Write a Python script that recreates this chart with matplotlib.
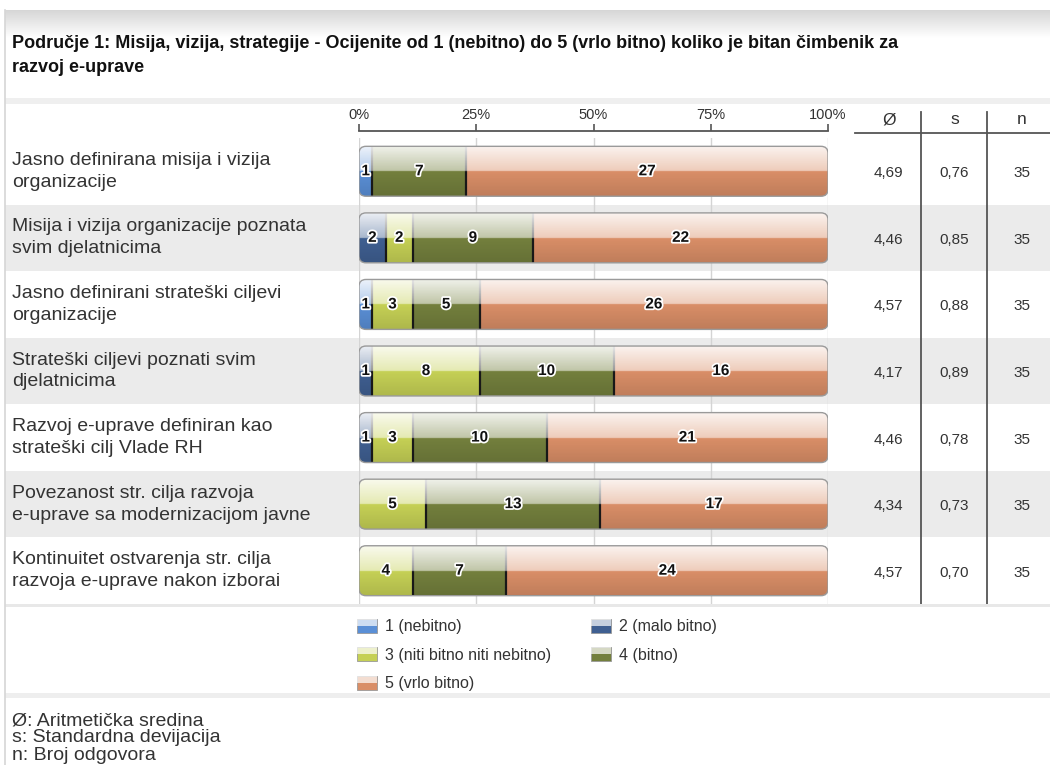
import numpy as np
import matplotlib.pyplot as plt
import matplotlib.patheffects as pe
from matplotlib.patches import FancyBboxPatch, Patch, Rectangle
from matplotlib.lines import Line2D
from matplotlib.legend_handler import HandlerPatch, HandlerTuple

plt.rcParams['font.family'] = ['Liberation Sans', 'DejaVu Sans']

# Podaci
naslov = ("Područje 1: Misija, vizija, strategije - Ocijenite od 1 (nebitno) do 5 (vrlo bitno) "
          "koliko je bitan čimbenik za\nrazvoj e-uprave")
pitanja = [
    "Jasno definirana misija i vizija\norganizacije",
    "Misija i vizija organizacije poznata\nsvim djelatnicima",
    "Jasno definirani strateški ciljevi\norganizacije",
    "Strateški ciljevi poznati svim\ndjelatnicima",
    "Razvoj e-uprave definiran kao\nstrateški cilj Vlade RH",
    "Povezanost str. cilja razvoja\ne-uprave sa modernizacijom javne",
    "Kontinuitet ostvarenja str. cilja\nrazvoja e-uprave nakon izborai",
]
kategorije = ["1 (nebitno)", "2 (malo bitno)", "3 (niti bitno niti nebitno)",
              "4 (bitno)", "5 (vrlo bitno)"]
ocjena_1 = [1, 0, 1, 0, 0, 0, 0]
ocjena_2 = [0, 2, 0, 1, 1, 0, 0]
ocjena_3 = [0, 2, 3, 8, 3, 5, 4]
ocjena_4 = [7, 9, 5, 10, 10, 13, 7]
ocjena_5 = [27, 22, 26, 16, 21, 17, 24]
sredina = [4.69, 4.46, 4.57, 4.17, 4.46, 4.34, 4.57]
devijacija = [0.76, 0.85, 0.88, 0.89, 0.78, 0.73, 0.70]
broj = [35, 35, 35, 35, 35, 35, 35]
fusnote = ["Ø: Aritmetička sredina", "s: Standardna devijacija", "n: Broj odgovora"]

boje = ['#5a8fd6', '#3f5f91', '#c5d055', '#737f3d', '#d98e67']

W, H = 1050, 765
def fx(x): return x / W
def fy(y): return 1 - y / H

fig = plt.figure(figsize=(W / 100, H / 100), dpi=100)

# okvir i gradijent na vrhu
grad = fig.add_axes([fx(5), fy(38), 1 - fx(5), 28 / H])
g = np.linspace(0.84, 1.0, 64).reshape(-1, 1)
grad.imshow(np.dstack([g, g, g]), aspect='auto', extent=(0, 1, 0, 1))
grad.axis('off')
fig.add_artist(Line2D([fx(5), fx(5)], [0, fy(10)], color='#d6d6d6', lw=1.2))
for y0, y1, c in [(98, 104, '#efefef'), (604, 607, '#e8e8e8'), (693, 698, '#eeeeee')]:
    fig.add_artist(Rectangle((fx(5), fy(y1)), 1, (y1 - y0) / H, color=c, lw=0))

fig.text(fx(12), fy(34.5), naslov, fontsize=13, fontweight='bold', va='top', ha='left',
         linespacing=1.6, color='#111111')

n_rows = len(pitanja)
y = np.arange(n_rows)
top_px, bot_px = 138, 604
pos_y = fy(bot_px)
pos_h = (bot_px - top_px) / H

# pozadina: pruge, oznake, tablica
bg = fig.add_axes([0, pos_y, 1, pos_h])
bg.set_xlim(0, W)
bg.set_ylim(n_rows - 0.5, -0.5)
bg.axis('off')
row_px = (bot_px - top_px) / n_rows
def py(p): return (p - top_px) / row_px - 0.5

for i in y:
    if i % 2 == 1:
        bg.axhspan(i - 0.5, i + 0.5, xmin=fx(5), xmax=1, color='#ebebeb', lw=0)
    bg.text(12, i, pitanja[i], fontsize=14, va='center', ha='left', color='#333333',
            linespacing=1.38)
    bg.text(888, i + 0.03, f"{sredina[i]:.2f}".replace('.', ','), fontsize=11,
            ha='center', va='center', color='#333333')
    bg.text(954, i + 0.03, f"{devijacija[i]:.2f}".replace('.', ','), fontsize=11,
            ha='center', va='center', color='#333333')
    bg.text(1022, i + 0.03, str(broj[i]), fontsize=11, ha='center', va='center',
            color='#333333')

for xc, t in [(889, 'Ø'), (955, 's'), (1022, 'n')]:
    bg.text(xc, py(120), t, fontsize=12.5, ha='center', va='center', color='#333333',
            clip_on=False)
for xv in (921, 987):
    bg.plot([xv, xv], [py(112), n_rows - 0.5], color='#555555', lw=1.3, clip_on=False)
bg.plot([855, W], [py(133), py(133)], color='#555555', lw=1.3, clip_on=False)

# stupci
ax = fig.add_axes([fx(359), pos_y, 469 / W, pos_h])
ax.set_facecolor('none')
ax.set_xlim(0, 100)
ax.set_ylim(n_rows - 0.5, -0.5)
for s in ('left', 'right', 'bottom'):
    ax.spines[s].set_visible(False)
ax.spines['top'].set_position(('outward', 5))
ax.spines['top'].set_color('#555555')
ax.spines['top'].set_linewidth(1.3)
ax.xaxis.tick_top()
ax.set_xticks([0, 25, 50, 75, 100])
ax.set_xticklabels(['0%', '25%', '50%', '75%', '100%'])
ax.tick_params(axis='x', direction='out', length=5, width=1.2, color='#555555',
               labelsize=10.5, labelcolor='#333333', pad=1.5)
ax.set_yticks([])
ax.grid(axis='x', color='#d4d4d4', lw=1)
ax.set_axisbelow(True)

counts = np.array([ocjena_1, ocjena_2, ocjena_3, ocjena_4, ocjena_5], dtype=float)
totals = counts.sum(axis=0)
pct = counts / totals * 100
h = 0.75
xa = 469 / 100
ya = row_px

alpha_prof = np.concatenate([np.linspace(0.9, 0.55, 50), np.zeros(50)])
overlay = np.ones((100, 1, 4))
overlay[:, 0, 3] = alpha_prof
shade = np.zeros((100, 1, 4))
shade[:, 0, 3] = np.concatenate([np.zeros(50), np.linspace(0, 0.12, 50)])

for i in y:
    outline = FancyBboxPatch((0, i - h / 2), 100, h,
                             boxstyle=f"round,pad=0,rounding_size={7 / xa}",
                             mutation_aspect=xa / ya, fc='none', ec='#9a9a9a',
                             lw=1, zorder=4)
    ax.add_patch(outline)
    left = 0.0
    edges = []
    for k in range(5):
        w = pct[k, i]
        if w <= 0:
            continue
        r = ax.barh(i, w, left=left, height=h, color=boje[k], lw=0, zorder=2)
        r[0].set_clip_path(outline)
        ax.text(left + w / 2, i, str(int(counts[k, i])), ha='center', va='center',
                fontsize=11, fontweight='bold', color='#111111', zorder=5,
                path_effects=[pe.withStroke(linewidth=2.5, foreground='white')])
        left += w
        edges.append(left)
    vl = ax.vlines(edges[:-1], i - h / 2, i + h / 2, color='#1a1a1a', lw=1.6, zorder=2.5)
    vl.set_clip_path(outline)
    for arr in (overlay, shade):
        im = ax.imshow(arr, aspect='auto', extent=(0, 100, i + h / 2, i - h / 2),
                       zorder=3, interpolation='bilinear')
        im.set_clip_path(outline)

ax.set_xlim(0, 100)
ax.set_ylim(n_rows - 0.5, -0.5)

# legenda
def gornja_polovina(legend, orig_handle, xdescent, ydescent, width, height, fontsize):
    return Rectangle((-xdescent, -ydescent + height / 2), width, height / 2)

handles, hmap = [], {}
for k in range(5):
    base = Patch(facecolor=boje[k], edgecolor='#999999', lw=0.6)
    light = Patch(facecolor='white', alpha=0.7, lw=0)
    hmap[light] = HandlerPatch(patch_func=gornja_polovina)
    handles.append((base, light))
hmap[tuple] = HandlerTuple(ndivide=1, pad=0)
order = [0, 2, 4, 1, 3]
fig.legend([handles[k] for k in order], [kategorije[k] for k in order],
           handler_map=hmap, ncol=2, loc='upper left',
           bbox_to_anchor=(fx(357), fy(619)), frameon=False, fontsize=11.5,
           handlelength=1.25, handleheight=0.95, handletextpad=0.5,
           labelspacing=0.82, columnspacing=2.5, borderpad=0, borderaxespad=0,
           labelcolor='#333333')

for j, t in enumerate(fusnote):
    fig.text(fx(12), fy(712 + 17.5 * j), t, fontsize=14, va='top', ha='left',
             color='#333333')

fig.savefig('out.png', dpi=100)
